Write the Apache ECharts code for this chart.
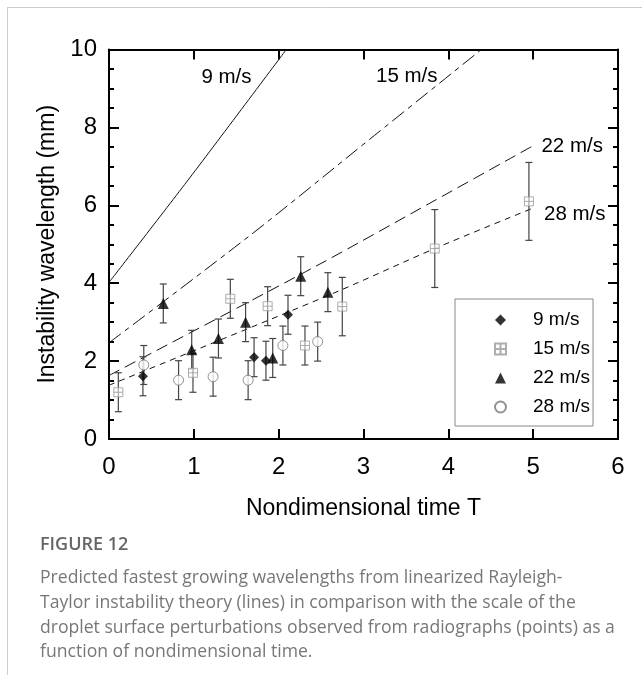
<!DOCTYPE html>
<html><head><meta charset="utf-8">
<script src="https://cdn.jsdelivr.net/npm/echarts@6/dist/echarts.min.js"></script>
<style>html,body{margin:0;padding:0;background:#fff}#c{width:642px;height:675px}</style>
</head><body><div id="c"></div>
<script>
// ---- data ----
const seriesNames = ['9 m/s', '15 m/s', '22 m/s', '28 m/s'];
// theory curves (T, wavelength mm)
const line9  = [[0, 4.02], [0.95, 6.70], [2.09, 10.0]];
const line15 = [[0, 2.47], [1.70, 5.29], [3.07, 7.69], [4.39, 10.0]];
const line22 = [[0, 1.63], [2.45, 4.45], [3.82, 6.10], [5.0, 7.53]];
const line28 = [[0, 1.38], [2.60, 3.70], [3.84, 4.89], [5.0, 5.93]];
// measured points
const t9  = [0.40, 1.71, 1.85, 2.11];
const v9  = [1.61, 2.10, 2.01, 3.19];
const e9  = [0.5, 0.5, 0.5, 0.5];
const t15 = [0.11, 0.99, 1.43, 1.87, 2.31, 2.75, 3.84, 4.95];
const v15 = [1.20, 1.70, 3.60, 3.41, 2.40, 3.40, 4.89, 6.10];
const e15 = [0.5, 0.5, 0.5, 0.5, 0.5, 0.75, 1.0, 1.0];
const t22 = [0.64, 0.975, 1.29, 1.61, 1.93, 2.26, 2.58];
const v22 = [3.48, 2.29, 2.58, 3.00, 2.08, 4.18, 3.77];
const e22 = [0.5, 0.5, 0.5, 0.5, 0.5, 0.5, 0.5];
const t28 = [0.41, 0.82, 1.227, 1.64, 2.05, 2.46];
const v28 = [1.90, 1.51, 1.60, 1.51, 2.40, 2.50];
const e28 = [0.5, 0.5, 0.5, 0.5, 0.5, 0.5];
const xMin = 0, xMax = 6, xStep = 1;
const yMin = 0, yMax = 10, yStep = 2;
const xTitle = 'Nondimensional time T';
const yTitle = 'Instability wavelength (mm)';
const figLabel = 'FIGURE 12';
const captionLines = [
  'Predicted fastest growing wavelengths from linearized Rayleigh-',
  'Taylor instability theory (lines) in comparison with the scale of the',
  'droplet surface perturbations observed from radiographs (points) as a',
  'function of nondimensional time.'
];

// ---- chart ----
const FF = '"Liberation Sans", Arial, sans-serif';
const chart = echarts.init(document.getElementById('c'), null, {renderer: 'canvas'});

function pts(t, v) { return t.map((x, i) => [x, v[i]]); }
function errs(t, v, e) { return t.map((x, i) => [x, v[i] - e[i], v[i] + e[i]]); }

function errRender(params, api) {
  const x = api.value(0), lo = api.value(1), hi = api.value(2);
  const p1 = api.coord([x, hi]), p2 = api.coord([x, lo]);
  const w = 3.5;
  const style = {stroke: '#444', lineWidth: 1.2, fill: null};
  return {type: 'group', children: [
    {type: 'line', shape: {x1: p1[0], y1: p1[1], x2: p2[0], y2: p2[1]}, style},
    {type: 'line', shape: {x1: p1[0] - w, y1: p1[1], x2: p1[0] + w, y2: p1[1]}, style},
    {type: 'line', shape: {x1: p2[0] - w, y1: p2[1], x2: p2[0] + w, y2: p2[1]}, style}
  ]};
}
function errSeries(name, data) {
  return {name: name, type: 'custom', renderItem: errRender, data: data,
    encode: {x: 0, y: [1, 2]}, z: 3, silent: true};
}
function theory(name, data, dash, lbl, coord) {
  return {name: name, type: 'line', data: data, showSymbol: false, smooth: 0.3,
    lineStyle: {color: '#111', width: 1, type: dash}, z: 2, silent: true,
    markPoint: {symbol: 'circle', symbolSize: 1, itemStyle: {color: 'rgba(0,0,0,0)'},
      label: {show: true, position: 'inside', formatter: lbl, color: '#000',
        fontFamily: FF, fontSize: 20.5},
      data: [{coord: coord}]}};
}

const axisCommon = {
  axisLine: {show: true, onZero: false, lineStyle: {color: '#000', width: 2}},
  splitLine: {show: false}
};

const option = {
  backgroundColor: '#fff',
  animation: false,
  grid: {left: 109, right: 24, top: 49.5, bottom: 236, containLabel: false},
  xAxis: [
    Object.assign({type: 'value', min: xMin, max: xMax, interval: xStep, position: 'bottom',
      axisTick: {inside: true, length: 10, lineStyle: {color: '#000', width: 2}},
      axisLabel: {color: '#000', fontFamily: FF, fontSize: 24, margin: 16},
      name: xTitle, nameLocation: 'middle', nameGap: 58,
      nameTextStyle: {color: '#000', fontFamily: FF, fontSize: 23}}, axisCommon),
    Object.assign({type: 'value', min: xMin, max: xMax, interval: xStep, position: 'top',
      axisTick: {inside: true, length: 10, lineStyle: {color: '#000', width: 2}},
      axisLabel: {show: false}}, axisCommon)
  ],
  yAxis: [
    Object.assign({type: 'value', min: yMin, max: yMax, interval: yStep, position: 'left',
      axisTick: {inside: true, length: 10, lineStyle: {color: '#000', width: 2}},
      minorTick: {show: true, splitNumber: 4, length: 5, lineStyle: {color: '#000', width: 2}},
      axisLabel: {color: '#000', fontFamily: FF, fontSize: 24, margin: 12},
      name: yTitle, nameLocation: 'middle', nameGap: 50,
      nameTextStyle: {color: '#000', fontFamily: FF, fontSize: 23}}, axisCommon),
    Object.assign({type: 'value', min: yMin, max: yMax, interval: yStep, position: 'right',
      axisTick: {inside: true, length: 10, lineStyle: {color: '#000', width: 2}},
      minorTick: {show: true, splitNumber: 4, length: 5, lineStyle: {color: '#000', width: 2}},
      axisLabel: {show: false}}, axisCommon)
  ],
  legend: {
    data: seriesNames, selectedMode: false, orient: 'vertical',
    left: 455, top: 299, padding: [11, 3, 9, 39], itemGap: 9,
    itemWidth: 11, itemHeight: 11,
    borderColor: '#888', borderWidth: 1, backgroundColor: '#fff',
    textStyle: {color: '#000', fontFamily: FF, fontSize: 19, lineHeight: 20, padding: [0, 0, 0, 22]}
  },
  series: [
    theory('theory 9', line9, 'solid', '9 m/s', [1.385, 9.29]),
    theory('theory 15', line15, [15, 5, 5, 5], '15 m/s', [3.51, 9.31]),
    theory('theory 22', line22, [12, 6], '22 m/s', [5.46, 7.52]),
    theory('theory 28', line28, [6, 5], '28 m/s', [5.49, 5.76]),
    errSeries('err 9', errs(t9, v9, e9)),
    errSeries('err 15', errs(t15, v15, e15)),
    errSeries('err 22', errs(t22, v22, e22)),
    errSeries('err 28', errs(t28, v28, e28)),
    {name: seriesNames[0], type: 'scatter', data: pts(t9, v9), symbol: 'diamond', symbolSize: 10,
      itemStyle: {color: '#000'}, z: 5},
    {name: seriesNames[1], type: 'scatter', data: pts(t15, v15),
      symbol: 'path://M0 0H10V10H0Z M5 0V10 M0 5H10', symbolSize: 9,
      itemStyle: {color: '#fff', borderColor: '#999', borderWidth: 1}, z: 5},
    {name: seriesNames[2], type: 'scatter', data: pts(t22, v22), symbol: 'triangle', symbolSize: 11,
      itemStyle: {color: '#000'}, z: 5},
    {name: seriesNames[3], type: 'scatter', data: pts(t28, v28), symbol: 'circle', symbolSize: 10,
      itemStyle: {color: '#fff', borderColor: '#777', borderWidth: 1}, z: 5}
  ],
  graphic: [
    {type: 'line', shape: {x1: 7, y1: 7.5, x2: 642, y2: 7.5}, style: {stroke: '#ccc', lineWidth: 1}, silent: true},
    {type: 'line', shape: {x1: 7.5, y1: 7, x2: 7.5, y2: 675}, style: {stroke: '#ccc', lineWidth: 1}, silent: true},
    {type: 'text', left: 40, top: 536, silent: true,
      style: {text: figLabel, fill: '#666', font: '600 18px "Open Sans", sans-serif'}},
    {type: 'text', left: 40, top: 566, silent: true,
      style: {text: captionLines.join('\n'), fill: '#777', font: '17.6px "Open Sans", sans-serif', lineHeight: 24.7}}
  ]
};
chart.setOption(option);
</script>
</body></html>
